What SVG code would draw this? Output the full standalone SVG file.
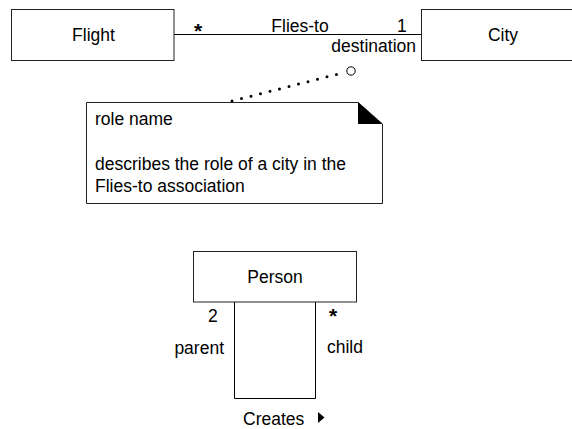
<svg xmlns="http://www.w3.org/2000/svg" width="572" height="429" viewBox="0 0 572 429">
<style>
.box{fill:#fff;stroke:#222;stroke-width:1}
.t{font-family:"Liberation Sans",Arial,sans-serif;font-size:17.5px;fill:#000}
.c{text-anchor:middle}
.e{text-anchor:end}
.ln{fill:none;stroke:#000;stroke-width:1}
.star{font-family:"Liberation Sans",Arial,sans-serif;font-size:21px;font-weight:bold;text-anchor:middle;fill:#000}
</style>
<rect width="572" height="429" fill="#fff"/>
<g id="connectors">
<line class="ln" x1="174" y1="34.5" x2="421" y2="34.5"/>
<text class="star" x="198" y="38">*</text>
<text class="t c" x="300" y="31.5">Flies-to</text>
<text class="t" x="397" y="31.5">1</text>
<text class="t e" x="416" y="51.5">destination</text>
<line x1="232" y1="101" x2="342" y2="73" stroke="#000" stroke-width="3" stroke-linecap="round" stroke-dasharray="0 9.8"/>
<circle cx="351" cy="71" r="4.2" fill="#fff" stroke="#000" stroke-width="1"/>
<polyline class="ln" points="234.5,302 234.5,398.5 315.5,398.5 315.5,302"/>
<text class="t" x="208" y="321.5">2</text>
<text class="t e" x="224" y="353.5">parent</text>
<text class="star" x="333" y="323">*</text>
<text class="t" x="327" y="353">child</text>
<text class="t" x="243" y="425">Creates</text>
<polygon points="318,412 324.5,417.5 318,423" fill="#000"/>
</g>
<g id="flight">
<rect class="box" x="11.5" y="9.5" width="162.5" height="51"/>
<text class="t c" x="93.5" y="41">Flight</text>
</g>
<g id="city">
<rect class="box" x="421.5" y="9.5" width="170" height="51"/>
<text class="t c" x="503" y="41">City</text>
</g>
<g id="note">
<path d="M86.5,102.5 H358 L382.5,124 V203.5 H86.5 Z" fill="#fff" stroke="#222" stroke-width="1"/>
<polygon points="358,102 382.5,124 358,124" fill="#000"/>
<text class="t" x="95" y="125">role name</text>
<text class="t" x="95" y="170">describes the role of a city in the</text>
<text class="t" x="95" y="192">Flies-to association</text>
</g>
<g id="person">
<rect class="box" x="193.5" y="251.5" width="163" height="50.5"/>
<text class="t c" x="275" y="283">Person</text>
</g>
</svg>
